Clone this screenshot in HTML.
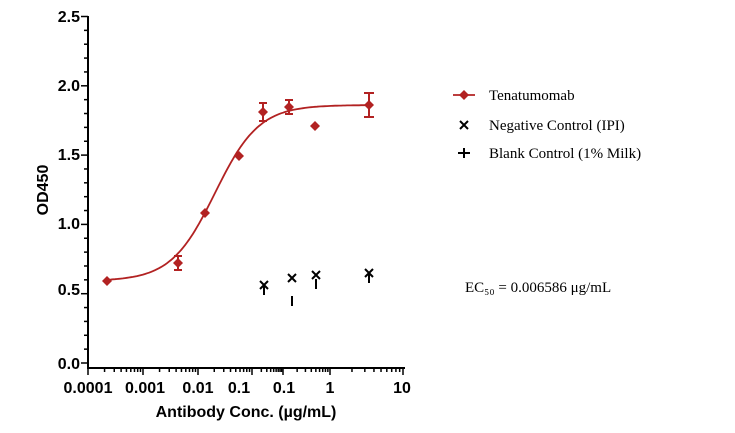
<!DOCTYPE html><html><head><style>body{margin:0;background:#fff}svg{display:block}</style></head><body>
<svg id="s" width="735" height="433" xmlns="http://www.w3.org/2000/svg" font-family="Liberation Sans, sans-serif">
<g stroke="#000" stroke-width="2" fill="none">
<line x1="88" y1="16" x2="88" y2="369"/>
<line x1="87" y1="368" x2="405" y2="368"/>
</g>
<g id="ticks" stroke="#000" stroke-width="1.5"></g>
<g font-size="16" font-weight="bold" text-anchor="end">
<text x="80" y="22">2.5</text><text x="80" y="91">2.0</text><text x="80" y="160">1.5</text>
<text x="80" y="229">1.0</text><text x="80" y="295">0.5</text><text x="80" y="369">0.0</text>
</g>
<g font-size="16" font-weight="bold" text-anchor="middle">
<text x="88" y="393">0.0001</text><text x="145" y="393">0.001</text><text x="198" y="393">0.01</text>
<text x="239" y="393">0.1</text><text x="284" y="393">0.1</text><text x="330" y="393">1</text><text x="402" y="393">10</text>
<text x="246" y="417">Antibody Conc. (µg/mL)</text>
<text transform="translate(48,190) rotate(-90)">OD450</text>
</g>
<path id="curve" fill="none" stroke="#b22222" stroke-width="1.8"/>
<g stroke="#b22222" stroke-width="2">
<path d="M178 256V270M174 256h8M174 270h8M263 103V121M259 103h8M259 121h8M289 100V114M285 100h8M285 114h8M369 93V117M364 93h10M364 117h10"/>
</g>
<g id="pts" fill="#b22222"></g>
<g stroke="#000" stroke-width="2" id="bk"></g>
<g stroke="#b22222" stroke-width="1.8"><line x1="453" y1="95" x2="475" y2="95"/></g>
<polygon points="464,90 469,95 464,100 459,95" fill="#b22222"/>
<g stroke="#000" stroke-width="2"><path d="M460 121l8 8M468 121l-8 8M464 148v10M458 153h12"/></g>
<g font-family="Liberation Serif, serif" font-size="15">
<text x="489" y="100">Tenatumomab</text>
<text x="489" y="130">Negative Control (IPI)</text>
<text x="489" y="158">Blank Control (1% Milk)</text>
<text x="465" y="292">EC₅₀ = 0.006586 μg/mL</text>
</g>
</svg>
<script>
var t=document.getElementById("ticks"),h="";
for(var i=0;i<=25;i++){var y=363-i*13.86;h+='<line x1="'+(i%5?84:81)+'" y1="'+y+'" x2="88" y2="'+y+'"/>';}
var maj=[88,143,198,252,283,330,403];
maj.forEach(function(x){h+='<line x1="'+x+'" y1="368" x2="'+x+'" y2="375"/>';});
for(var d=0;d<maj.length-1;d++){var a=maj[d],b=maj[d+1];for(var k=2;k<10;k++){var x=a+(b-a)*Math.log10(k);h+='<line x1="'+x+'" y1="368" x2="'+x+'" y2="372"/>';}}
t.innerHTML=h;
var p="";for(var x=107;x<=370;x+=2){var y=281-176/(1+Math.exp(-(x-215)/22));p+=(x==107?"M":"L")+x+" "+y.toFixed(1);}
document.getElementById("curve").setAttribute("d",p);
var pts=[[107,281],[178,263],[205,213],[239,156],[263,112],[289,107],[315,126],[369,105]],q="";
pts.forEach(function(c){q+='<polygon points="'+c[0]+','+(c[1]-5)+' '+(c[0]+5)+','+c[1]+' '+c[0]+','+(c[1]+5)+' '+(c[0]-5)+','+c[1]+'"/>';});
document.getElementById("pts").innerHTML=q;
var xs=[[264,285],[292,278],[316,275],[369,273]],ps=[[264,290],[292,301],[316,284],[369,278]],r="";
xs.forEach(function(c){r+='<path d="M'+(c[0]-4)+' '+(c[1]-4)+'l8 8M'+(c[0]+4)+' '+(c[1]-4)+'l-8 8"/>';});
ps.forEach(function(c){r+='<path d="M'+c[0]+' '+(c[1]-5)+'v10"/>';});
document.getElementById("bk").innerHTML=r;
</script>
</body></html>
